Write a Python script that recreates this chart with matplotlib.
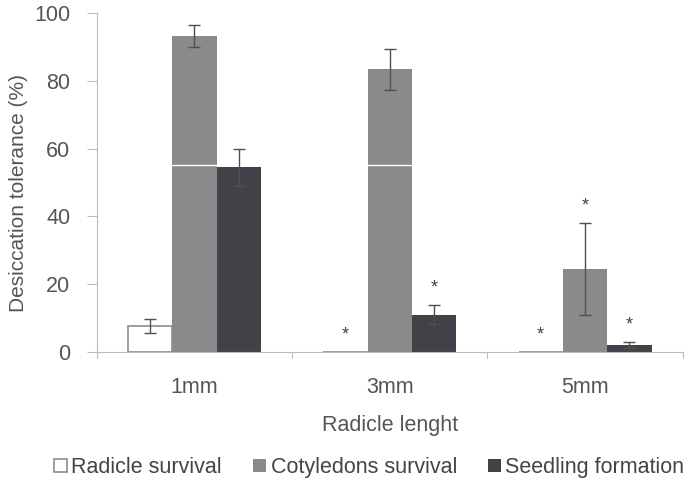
import matplotlib.pyplot as plt
import numpy as np

plt.rcParams["font.family"] = ["Liberation Sans", "DejaVu Sans"]

categories = ["1mm", "3mm", "5mm"]
series_names = ["Radicle survival", "Cotyledons survival", "Seedling formation"]
radicle = [7.7, 0.0, 0.0]
radicle_err = [2.0, 0.0, 0.0]
cotyledons = [93.2, 83.4, 24.5]
cotyledons_err = [3.1, 6.0, 13.5]
seedling = [54.4, 10.9, 2.0]
seedling_err = [5.6, 2.8, 1.0]
# significance marks (True -> asterisk above the bar)
radicle_sig = [False, True, True]
cotyledons_sig = [False, False, True]
seedling_sig = [False, True, True]

FS = 15.5
TXT = "#555555"

fig = plt.figure(figsize=(6.91, 4.80), dpi=100)
ax = fig.add_axes([0.140, 0.267, 0.848, 0.706])

x = np.arange(len(categories))
w = 0.227
styles = [
    dict(color="white", edgecolor="#8c8c8c", linewidth=1.2),
    dict(color="#8a8a8a", edgecolor="#8a8a8a", linewidth=0),
    dict(color="#414248", edgecolor="#414248", linewidth=0),
]
data = [
    (radicle, radicle_err, radicle_sig),
    (cotyledons, cotyledons_err, cotyledons_sig),
    (seedling, seedling_err, seedling_sig),
]

for i, ((vals, errs, sigs), st, name) in enumerate(zip(data, styles, series_names)):
    pos = x + (i - 1) * w
    ax.bar(pos, vals, w, label=name, zorder=2, **st)
    for p, v, e, s in zip(pos, vals, errs, sigs):
        if e > 0:
            ax.errorbar(p, v, yerr=e, fmt="none", ecolor="#505050",
                        elinewidth=1, capsize=4, capthick=1, zorder=3)
        if s:
            ax.text(p, v + e + 5, "*", ha="center", va="center",
                    fontsize=13, color="#444444", zorder=4)

# faint white line across bars (as in the original figure)
ax.axhline(55, color="white", lw=1, zorder=2.5)

ax.set_xlim(-0.5, 2.5)
ax.set_ylim(0, 100)
ax.set_yticks([0, 20, 40, 60, 80, 100])
ax.set_xticks([-0.5, 0.5, 1.5, 2.5])
ax.set_xticklabels([])
ax.set_xticks(x, minor=True)
ax.set_xticklabels(categories, minor=True)
ax.tick_params(axis="x", which="minor", length=0, pad=18,
               labelsize=FS, labelcolor=TXT)
ax.tick_params(axis="x", which="major", length=4, direction="out", color="#bbbbbb")
ax.tick_params(axis="y", length=7, color="#bbbbbb", labelsize=FS,
               labelcolor=TXT, pad=12)

for side in ["top", "right"]:
    ax.spines[side].set_visible(False)
for side in ["left", "bottom"]:
    ax.spines[side].set_color("#bbbbbb")

ax.set_ylabel("Desiccation tolerance (%)", fontsize=15, color=TXT, labelpad=7)
ax.yaxis.set_label_coords(-0.118, 0.47)
ax.set_xlabel("Radicle lenght", fontsize=FS, color=TXT, labelpad=12)

fig.legend(loc="lower left", bbox_to_anchor=(0.066, -0.014), ncol=3, frameon=False,
           fontsize=FS, handlelength=0.6, handleheight=0.6, handletextpad=0.2,
           columnspacing=1.45, labelcolor="#444444", borderaxespad=0)

fig.savefig("out.png", dpi=100)
